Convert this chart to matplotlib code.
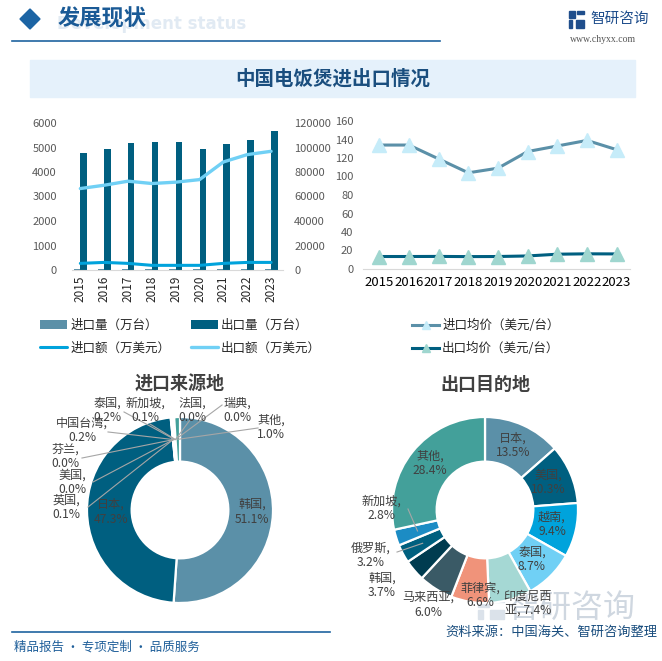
import numpy as np
import matplotlib
matplotlib.use("Agg")
import matplotlib.pyplot as plt
from matplotlib.patches import Rectangle, Polygon

plt.rcParams['font.family'] = ['Noto Sans CJK SC', 'DejaVu Sans']

# ---- data ----
years = ['2015', '2016', '2017', '2018', '2019', '2020', '2021', '2022', '2023']
import_qty = [40, 46, 45, 37, 35, 30, 40, 45, 48]                 # 万台
export_qty = [4780, 4930, 5180, 5220, 5210, 4940, 5140, 5300, 5670]  # 万台
import_val = [5400, 6200, 5400, 3800, 3800, 3800, 5400, 6200, 6200]  # 万美元
export_val = [66500, 69200, 72500, 70600, 71700, 73800, 88200, 94200, 96900]
import_price = [134, 134, 119, 104, 109, 127, 133, 139, 129]       # 美元/台
export_price = [13.5, 13.5, 13.6, 13.4, 13.5, 14.1, 16.0, 16.4, 16.3]

src_names = ['韩国', '日本', '英国', '美国', '芬兰', '中国台湾', '泰国', '新加坡', '法国', '瑞典', '其他']
src_share = [51.1, 47.3, 0.1, 0.0, 0.0, 0.2, 0.2, 0.1, 0.0, 0.0, 1.0]

dst_names = ['日本', '美国', '越南', '泰国', '印度尼西亚', '菲律宾', '马来西亚', '韩国', '俄罗斯', '新加坡', '其他']
dst_share = [13.5, 10.3, 9.4, 8.7, 7.4, 6.6, 6.0, 3.7, 3.2, 2.8, 28.4]

# ---- styles / layout ----
C_GREY = '#5b90a8'
C_DARK = '#005f80'
C_BLUE = '#00a3dc'
C_LIGHT = '#70d0f5'
TXT = '#404040'

src_colors = [C_GREY, C_DARK, '#00a3dc', '#70d0f5', '#a5d8d4', '#f0937a',
              '#3a5a66', '#003c50', '#1c8cc4', '#00607f', '#43a09a']
dst_colors = [C_GREY, C_DARK, C_BLUE, C_LIGHT, '#a5d8d4', '#f0937a',
              '#3a5a66', '#003c50', '#00607f', '#1c8cc4', '#43a09a']

# label positions in donut units (radius = 1)
src_lab = [(0.774, -0.02), (-0.742, -0.02), (-1.226, 0.03), (-1.161, 0.30),
           (-1.237, 0.58), (-1.054, 0.86), (-0.785, 1.075), (-0.376, 1.075),
           (0.129, 1.075), (0.613, 1.075), (0.978, 0.892)]
src_lead = {2: (-0.989, 0.032), 3: (-0.935, 0.301), 4: (-1.054, 0.559),
            5: (-0.774, 0.839), 6: (-0.602, 1.054), 7: (-0.323, 0.925),
            8: (0.108, 0.968), 9: (0.452, 1.129), 10: (0.839, 0.882)}
dst_lab = [(0.301, 0.699), (0.677, 0.301), (0.720, -0.151), (0.505, -0.527),
           (0.462, -1.0), (-0.054, -0.914), (-0.613, -1.02), (-1.108, -0.806),
           (-1.226, -0.484), (-1.118, 0.02), (-0.591, 0.505)]
dst_lead = {8: (-0.946, -0.452), 9: (-0.828, 0.011)}

W, H = 662, 661
fig = plt.figure(figsize=(6.62, 6.61), dpi=100)
fig.patch.set_facecolor('white')


def rect(l, t, r, b):
    return [l / W, 1 - b / H, (r - l) / W, (b - t) / H]


# background layer in pixel coords
bg = fig.add_axes([0, 0, 1, 1])
bg.set_xlim(0, W)
bg.set_ylim(H, 0)
bg.axis('off')

bg.add_patch(Polygon([(20, 19), (30, 9), (40, 19), (30, 29)], closed=True, color='#1c64a4'))
bg.text(57, 24, 'Development status', fontsize=12, fontweight='bold', color='#e1eaf3',
        va='center', ha='left', family='DejaVu Sans')
bg.text(58, 19, '发展现状', fontsize=16, fontweight='bold', color='#1a5a96', va='center', ha='left')
bg.plot([12, 440], [40.5, 40.5], color='#1f64a0', lw=1.2)
bg.add_patch(Rectangle((569, 11), 6, 7, color='#1f4e8c'))
bg.add_patch(Rectangle((577, 11), 7, 3, color='#1f4e8c'))
bg.add_patch(Rectangle((569, 20), 3, 8, color='#1f4e8c'))
bg.add_patch(Rectangle((576, 20), 8, 8, color='#1f4e8c'))
bg.text(590, 19, '智研咨询', fontsize=10.5, color='#1f4e8c', va='center', ha='left')
bg.text(570, 40, 'www.chyxx.com', fontsize=7, color='#555555', va='center', ha='left',
        family='Liberation Serif')

bg.add_patch(Rectangle((30, 60), 605, 37, color='#e5f1fb'))
bg.text(333, 79, '中国电饭煲进出口情况', fontsize=14, fontweight='bold', color='#1a4e7e',
        ha='center', va='center')

# faint brand mark, bottom right
bg.add_patch(Rectangle((478, 598), 11, 9, color='#dbe2ea'))
bg.add_patch(Rectangle((492, 598), 12, 4, color='#dbe2ea'))
bg.add_patch(Rectangle((478, 610), 5, 9, color='#dbe2ea'))
bg.add_patch(Rectangle((490, 610), 14, 9, color='#dbe2ea'))
bg.text(508, 608, '智研咨询', fontsize=23, color='#cfd7e0', ha='left', va='center')

bg.plot([12, 330], [632, 632], color='#1f64a0', lw=1.2)
bg.text(14, 647, '精品报告 · 专项定制 · 品质服务', fontsize=9, color='#1f5f9a', ha='left', va='center')
bg.text(657, 632, '资料来源：中国海关、智研咨询整理', fontsize=9.5, color='#1a4e7e', ha='right', va='center')

# ---- bar + line chart ----
x = np.arange(len(years))
bw = 0.27
ax1 = fig.add_axes(rect(72, 123, 283, 270))
ax1.bar(x - bw / 2, import_qty, bw, color=C_GREY, label='进口量（万台）')
ax1.bar(x + bw / 2, export_qty, bw, color=C_DARK, label='出口量（万台）')
ax1.set_xlim(-0.35, 8.5)
ax1.set_ylim(0, 6000)
ax1.set_yticks(range(0, 6001, 1000))
ax1.set_xticks(x)
ax1.set_xticklabels(years, rotation=90, fontsize=8.5, color='#262626')
ax1.tick_params(axis='y', length=0, labelsize=8, labelcolor='#595959', pad=11)
ax1.tick_params(axis='x', length=0, pad=4)
for s in ['top', 'right', 'left']:
    ax1.spines[s].set_visible(False)
ax1.spines['bottom'].set_color('#d9d9d9')

ax2 = ax1.twinx()
ax2.plot(x, import_val, color=C_BLUE, lw=2.2, solid_capstyle='round', label='进口额（万美元）')
ax2.plot(x, export_val, color=C_LIGHT, lw=2.4, solid_capstyle='round', label='出口额（万美元）')
ax2.set_ylim(0, 120000)
ax2.set_yticks(range(0, 120001, 20000))
ax2.tick_params(axis='y', length=0, labelsize=8, labelcolor='#595959', pad=8)
for s in ax2.spines.values():
    s.set_visible(False)

ax3 = fig.add_axes(rect(363, 121, 630, 269))
ax3.plot(x, import_price, color=C_GREY, lw=2.2, marker='^', ms=10, mfc='#c6ecf9', mec='#c6ecf9',
         label='进口均价（美元/台）')
ax3.plot(x, export_price, color=C_DARK, lw=2.2, marker='^', ms=10, mfc='#9fd6cf', mec='#9fd6cf',
         label='出口均价（美元/台）')
ax3.set_xlim(-0.55, 8.45)
ax3.set_ylim(0, 160)
ax3.set_yticks(range(0, 161, 20))
ax3.set_xticks(x)
ax3.set_xticklabels(years, fontsize=9.5, color='#000000')
ax3.tick_params(axis='y', length=0, labelsize=8, labelcolor='#595959', pad=7)
ax3.tick_params(axis='x', length=0, pad=5)
for s in ['top', 'right', 'left']:
    ax3.spines[s].set_visible(False)
ax3.spines['bottom'].set_color('#d9d9d9')

# legends
h1, l1 = ax1.get_legend_handles_labels()
h2, l2 = ax2.get_legend_handles_labels()
leg_a = fig.legend([h1[0], h2[0], h1[1], h2[1]], [l1[0], l2[0], l1[1], l2[1]], ncol=2,
                   loc='upper left', bbox_to_anchor=(40 / W, 1 - 319 / H), frameon=False,
                   fontsize=9, handlelength=2.16, handletextpad=0.25, columnspacing=1.65,
                   labelspacing=0.78, borderpad=0, borderaxespad=0, labelcolor='#262626')
h3, l3 = ax3.get_legend_handles_labels()
leg_b = fig.legend(h3, l3, loc='upper left', bbox_to_anchor=(412 / W, 1 - 319 / H), frameon=False,
                   fontsize=9, handlelength=2.16, handletextpad=0.25, labelspacing=0.78,
                   borderpad=0, borderaxespad=0, labelcolor='#262626', markerscale=0.55)


# ---- donuts ----
def donut(cx, cy, shares, names, colors, labpos, leads, title):
    half = 1.5 * 93
    ax = fig.add_axes(rect(cx - half, cy - half, cx + half, cy + half))
    wedges, _ = ax.pie(shares, colors=colors, startangle=90, counterclock=False, radius=1,
                       wedgeprops=dict(width=0.48, edgecolor='white', linewidth=1.6))
    # pie() resets the limits, so set them afterwards
    ax.set_xlim(-1.5, 1.5)
    ax.set_ylim(-1.5, 1.5)
    ax.axis('off')
    for i, (nm, v) in enumerate(zip(names, shares)):
        if nm == '印度尼西亚':
            txt = '印度尼西\n亚, %.1f%%' % v
        else:
            txt = '%s,\n%.1f%%' % (nm, v)
        lx, ly = labpos[i]
        ax.text(lx, ly, txt, fontsize=8.7, color=TXT, ha='center', va='center',
                linespacing=1.15, zorder=5)
        if i in leads:
            w = wedges[i]
            a = np.deg2rad((w.theta1 + w.theta2) / 2)
            ex, ey = leads[i]
            ax.plot([0.76 * np.cos(a), ex], [0.76 * np.sin(a), ey], color='#a6a6a6', lw=0.8,
                    zorder=4)
    ax.text(0, 1.35, title, fontsize=13, fontweight='bold', color=TXT, ha='center', va='center')
    return ax


donut(180, 510, src_share, src_names, src_colors, src_lab, src_lead, '进口来源地')
donut(485, 510, dst_share, dst_names, dst_colors, dst_lab, dst_lead, '出口目的地')

fig.savefig('out.png', dpi=100, facecolor='white')
